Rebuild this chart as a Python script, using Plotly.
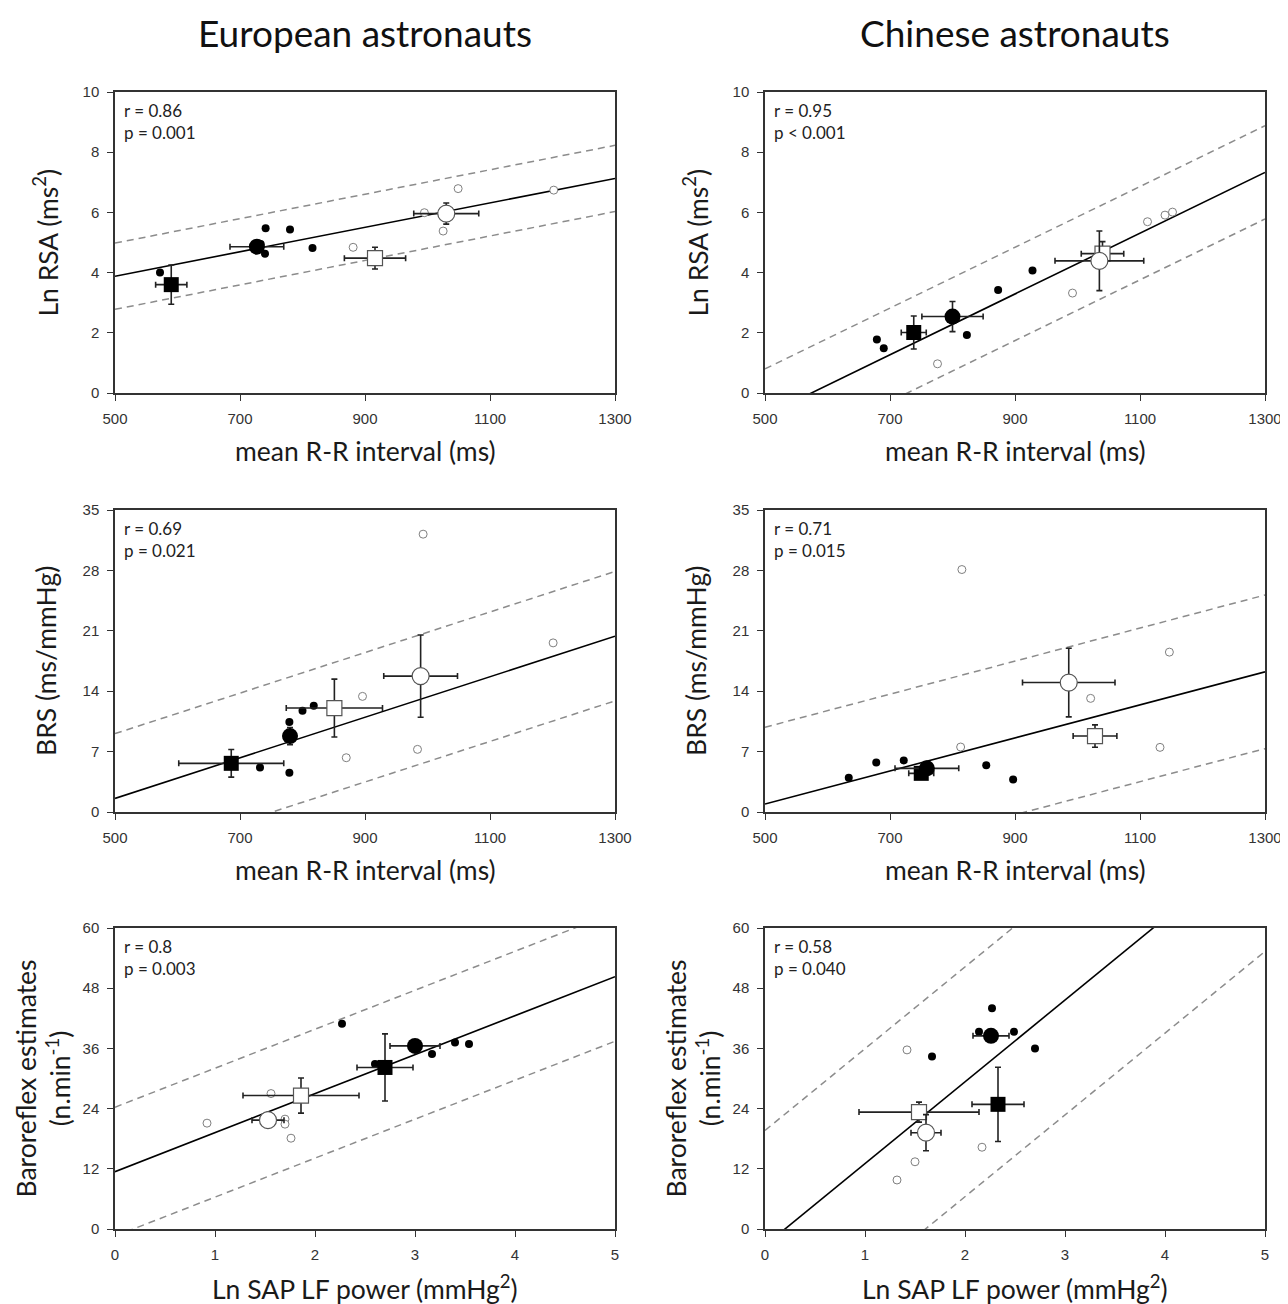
import plotly.graph_objects as go

# The page body has an 8px margin; the figure is sized to fill the rest exactly.
OFF = 8
W, H = 1288 - OFF, 1304 - OFF

# ---------------- DATA ----------------
# Panel 1: European, Ln RSA vs mean R-R
eu_rsa_filled_x = [572, 741, 780, 816, 740, 733]
eu_rsa_filled_y = [4.0, 5.47, 5.43, 4.82, 4.63, 4.95]
eu_rsa_open_x = [881, 995, 1049, 1025, 1202]
eu_rsa_open_y = [4.84, 5.99, 6.79, 5.38, 6.74]
eu_rsa_means = {  # [x, y, xerr, yerr]
    "fc": [727, 4.86, 43, 0.12], "fs": [590, 3.6, 25, 0.65],
    "oc": [1030, 5.96, 52, 0.35], "os": [916, 4.48, 49, 0.36]}
eu_rsa_fit = [1.85, 0.00406, 1.1]  # intercept, slope, band

# Panel 2: Chinese, Ln RSA vs mean R-R
cn_rsa_filled_x = [679, 690, 823, 873, 928]
cn_rsa_filled_y = [1.78, 1.49, 1.93, 3.42, 4.07]
cn_rsa_open_x = [776, 992, 1112, 1140, 1152]
cn_rsa_open_y = [0.97, 3.32, 5.69, 5.91, 6.01]
cn_rsa_means = {
    "fc": [800, 2.54, 49, 0.5], "fs": [738, 2.01, 20, 0.55],
    "oc": [1035, 4.39, 71, 0.99], "os": [1040, 4.63, 34, 0.4]}
cn_rsa_fit = [-5.80, 0.0101, 1.55]

# Panel 3: European, BRS vs mean R-R
eu_brs_filled_x = [732, 779, 779, 800, 818]
eu_brs_filled_y = [5.17, 4.56, 10.42, 11.74, 12.32]
eu_brs_open_x = [993, 896, 870, 984, 1201]
eu_brs_open_y = [32.2, 13.4, 6.29, 7.26, 19.6]
eu_brs_means = {
    "fc": [780, 8.8, 10, 1.0], "fs": [686, 5.64, 84, 1.6],
    "oc": [989, 15.75, 59, 4.77], "os": [851, 12.05, 77, 3.35]}
eu_brs_fit = [-10.17, 0.0235, 7.5]

# Panel 4: Chinese, BRS vs mean R-R
cn_brs_filled_x = [634, 678, 722, 854, 897, 762]
cn_brs_filled_y = [3.98, 5.75, 5.98, 5.41, 3.78, 5.3]
cn_brs_open_x = [815, 813, 1021, 1147, 1132]
cn_brs_open_y = [28.1, 7.53, 13.17, 18.53, 7.49]
cn_brs_means = {
    "fc": [759, 5.06, 51, 0.5], "fs": [750, 4.48, 20, 0.4],
    "oc": [986, 15.0, 74, 3.97], "os": [1028, 8.8, 35, 1.3]}
cn_brs_fit = [-8.65, 0.01915, 8.9]

# Panel 5: European, baroreflex estimates vs Ln SAP LF
eu_bre_filled_x = [2.27, 3.40, 3.54, 3.17, 2.6]
eu_bre_filled_y = [40.9, 37.2, 36.9, 34.9, 32.9]
eu_bre_open_x = [0.92, 1.56, 1.70, 1.70, 1.76]
eu_bre_open_y = [21.1, 27.0, 21.9, 20.9, 18.1]
eu_bre_means = {
    "fc": [3.0, 36.5, 0.25, 0.8], "fs": [2.70, 32.2, 0.28, 6.7],
    "oc": [1.53, 21.7, 0.16, 0.6], "os": [1.86, 26.6, 0.58, 3.5]}
eu_bre_fit = [11.43, 7.77, 12.85]

# Panel 6: Chinese, baroreflex estimates vs Ln SAP LF
cn_bre_filled_x = [2.27, 2.14, 2.49, 2.70, 1.67]
cn_bre_filled_y = [44.0, 39.3, 39.3, 36.0, 34.4]
cn_bre_open_x = [1.42, 2.17, 1.50, 1.32]
cn_bre_open_y = [35.7, 16.3, 13.4, 9.77]
cn_bre_means = {
    "fc": [2.26, 38.5, 0.18, 1.0], "fs": [2.33, 24.85, 0.26, 7.4],
    "oc": [1.61, 19.2, 0.15, 3.6], "os": [1.54, 23.3, 0.6, 2.0]}
cn_bre_fit = [-3.26, 16.3, 22.9]

stats_text = ["r = 0.86<br>p = 0.001", "r = 0.95<br>p < 0.001",
              "r = 0.69<br>p = 0.021", "r = 0.71<br>p = 0.015",
              "r = 0.8<br>p = 0.003", "r = 0.58<br>p = 0.040"]
col_titles = ["European astronauts", "Chinese astronauts"]
x_titles = ["mean R-R interval (ms)", "mean R-R interval (ms)", "Ln SAP LF power (mmHg<sup>2</sup>)"]
y_titles = ["Ln RSA (ms<sup>2</sup>)", "BRS (ms/mmHg)", "Baroreflex estimates<br>(n.min<sup>-1</sup>)"]
x_ranges = [[500, 1300], [500, 1300], [0, 5]]
x_ticks = [[500, 700, 900, 1100, 1300], [500, 700, 900, 1100, 1300], [0, 1, 2, 3, 4, 5]]
y_ranges = [[0, 10], [0, 35], [0, 60]]
y_ticks = [[0, 2, 4, 6, 8, 10], [0, 7, 14, 21, 28, 35], [0, 12, 24, 36, 48, 60]]

panels = [
    (eu_rsa_filled_x, eu_rsa_filled_y, eu_rsa_open_x, eu_rsa_open_y, eu_rsa_means, eu_rsa_fit),
    (cn_rsa_filled_x, cn_rsa_filled_y, cn_rsa_open_x, cn_rsa_open_y, cn_rsa_means, cn_rsa_fit),
    (eu_brs_filled_x, eu_brs_filled_y, eu_brs_open_x, eu_brs_open_y, eu_brs_means, eu_brs_fit),
    (cn_brs_filled_x, cn_brs_filled_y, cn_brs_open_x, cn_brs_open_y, cn_brs_means, cn_brs_fit),
    (eu_bre_filled_x, eu_bre_filled_y, eu_bre_open_x, eu_bre_open_y, eu_bre_means, eu_bre_fit),
    (cn_bre_filled_x, cn_bre_filled_y, cn_bre_open_x, cn_bre_open_y, cn_bre_means, cn_bre_fit),
]

# ---------------- LAYOUT GEOMETRY (page pixels) ----------------
col_px = [(115, 615), (765, 1265)]
row_px = [(92, 393), (510, 812), (928, 1229)]


def px(v):
    return v / W


def py(v):
    return 1 - v / H


TITLE_FONT = "Lato"
TICK_FONT = "Liberation Sans, Arial"

fig = go.Figure()
annotations = []
layout_axes = {}

for i, (fx, fy, ox, oy, means, fit) in enumerate(panels):
    r, c = divmod(i, 2)
    n = i + 1
    xa = "x" if n == 1 else f"x{n}"
    ya = "y" if n == 1 else f"y{n}"
    xkey = "xaxis" if n == 1 else f"xaxis{n}"
    ykey = "yaxis" if n == 1 else f"yaxis{n}"
    x0, x1 = (v - OFF for v in col_px[c])
    y0, y1 = (v - OFF for v in row_px[r])
    xr = x_ranges[r]
    a, b, band = fit
    lx = xr
    # regression and prediction lines
    fig.add_trace(go.Scatter(x=lx, y=[a + b * v for v in lx], mode="lines",
                             line=dict(color="black", width=1.6), xaxis=xa, yaxis=ya,
                             showlegend=False, hoverinfo="skip"))
    for s in (1, -1):
        fig.add_trace(go.Scatter(x=lx, y=[a + b * v + s * band for v in lx], mode="lines",
                                 line=dict(color="#8c8c8c", width=1.5, dash="7px,5px"),
                                 xaxis=xa, yaxis=ya, showlegend=False, hoverinfo="skip"))
    # individual points
    fig.add_trace(go.Scatter(x=ox, y=oy, mode="markers",
                             marker=dict(size=8, color="white", line=dict(color="#7f7f7f", width=1)),
                             xaxis=xa, yaxis=ya, showlegend=False, cliponaxis=False))
    fig.add_trace(go.Scatter(x=fx, y=fy, mode="markers",
                             marker=dict(size=8, color="black", line=dict(width=0)),
                             xaxis=xa, yaxis=ya, showlegend=False, cliponaxis=False))
    # group means with error bars
    styles = {
        "os": dict(symbol="square", size=15, color="white", line=dict(color="#555555", width=1.2)),
        "oc": dict(symbol="circle", size=17, color="white", line=dict(color="#555555", width=1.2)),
        "fs": dict(symbol="square", size=15, color="black", line=dict(width=0)),
        "fc": dict(symbol="circle", size=16, color="black", line=dict(width=0)),
    }
    for key in ["os", "oc", "fs", "fc"]:
        mx, my, ex, ey = means[key]
        fig.add_trace(go.Scatter(
            x=[mx], y=[my], mode="markers", marker=styles[key],
            error_x=dict(type="data", array=[ex], color="#222222", thickness=1.6, width=3),
            error_y=dict(type="data", array=[ey], color="#222222", thickness=1.6, width=3),
            xaxis=xa, yaxis=ya, showlegend=False, cliponaxis=False))

    common = dict(showline=True, linecolor="#333333", linewidth=1.5, mirror=True,
                  ticks="outside", ticklen=6, tickcolor="#333333", showgrid=False,
                  zeroline=False, automargin=False, ticklabelstandoff=5,
                  tickfont=dict(family=TICK_FONT, size=15, color="#333333"))
    layout_axes[xkey] = dict(domain=[px(x0), px(x1)], anchor=ya, range=xr,
                             tickvals=x_ticks[r], **common)
    layout_axes[ykey] = dict(domain=[py(y1), py(y0)], anchor=xa, range=y_ranges[r],
                             tickvals=y_ticks[r], **common)

    # stats text
    annotations.append(dict(x=px(x0 + 7), y=py(y0 + 6), xref="paper", yref="paper",
                            xanchor="left", yanchor="top", align="left", showarrow=False,
                            text=stats_text[i], font=dict(family=TITLE_FONT, size=17, color="#222222")))
    # x title
    annotations.append(dict(x=px((x0 + x1) / 2), y=py(y1 + 58), xref="paper", yref="paper",
                            xanchor="center", yanchor="middle", showarrow=False,
                            text=x_titles[r], font=dict(family=TITLE_FONT, size=26.5, color="#1a1a1a")))
    # y title
    ycx = x0 - (73 if r == 2 else 69)
    annotations.append(dict(x=px(ycx), y=py((y0 + y1) / 2), xref="paper", yref="paper",
                            xanchor="center", yanchor="middle", showarrow=False, textangle=-90,
                            text=y_titles[r], font=dict(family=TITLE_FONT, size=26.5, color="#1a1a1a")))

for c, t in enumerate(col_titles):
    x0, x1 = (v - OFF for v in col_px[c])
    annotations.append(dict(x=px((x0 + x1) / 2), y=1.0, xref="paper", yref="paper",
                            xanchor="center", yanchor="top", showarrow=False,
                            text=t, font=dict(family=TITLE_FONT, size=37, color="#111111")))

fig.update_layout(width=W, height=H, margin=dict(l=0, r=0, t=0, b=0),
                  paper_bgcolor="white", plot_bgcolor="white",
                  showlegend=False, annotations=annotations, **layout_axes)

fig.write_html("out.html")
